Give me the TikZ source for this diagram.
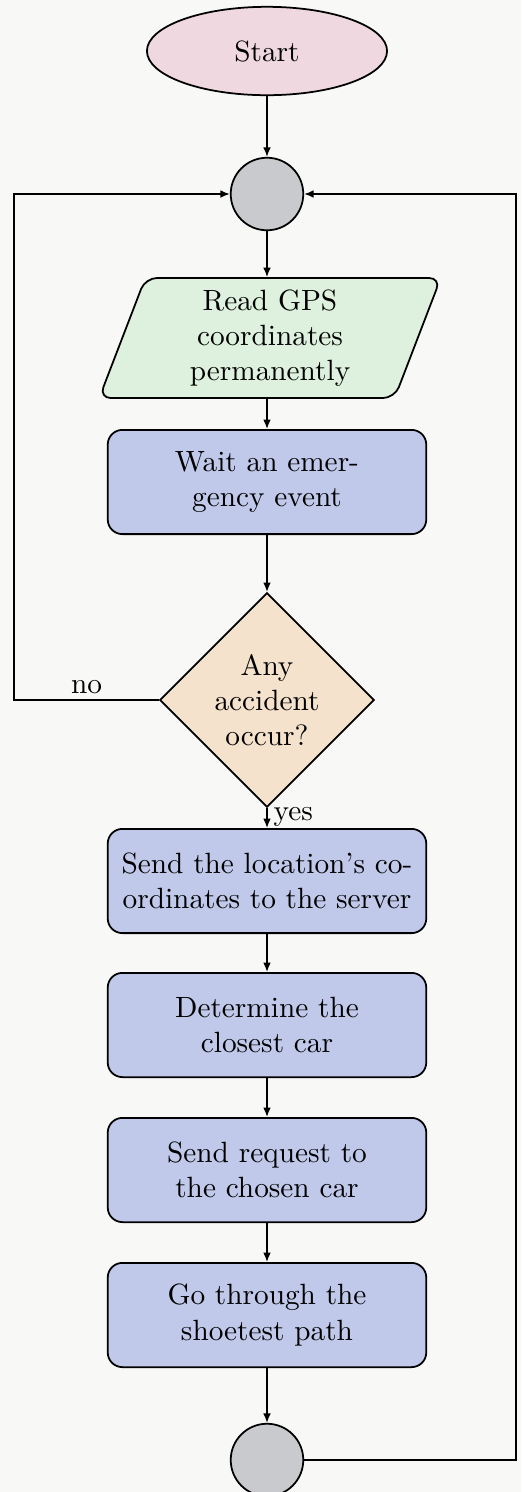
\documentclass[tikz,border=0pt]{standalone}
\usetikzlibrary{shapes.geometric,arrows.meta}

\definecolor{startfill}{RGB}{240,216,224}
\definecolor{iofill}{RGB}{222,240,222}
\definecolor{procfill}{RGB}{192,201,234}
\definecolor{decfill}{RGB}{245,226,204}
\definecolor{junctionfill}{RGB}{200,202,205}
\definecolor{paper}{RGB}{248,248,247}

\tikzset{
  base/.style={draw, line width=0.6pt, align=center},
  startstop/.style={base, ellipse, fill=startfill,
    minimum width=2.88cm, minimum height=1.06cm, inner sep=0pt},
  junction/.style={base, circle, fill=junctionfill, minimum size=0.87cm, inner sep=0pt},
  io/.style={base, trapezium, trapezium left angle=66, trapezium right angle=114,
    trapezium stretches=true, rounded corners=4pt, fill=iofill,
    minimum width=4.1cm, minimum height=1.44cm, inner sep=0pt, text width=2.8cm},
  proc/.style={base, rectangle, rounded corners=5pt, fill=procfill,
    minimum width=3.82cm, minimum height=1.25cm, text width=3.6cm, inner sep=0pt},
  decision/.style={base, diamond, fill=decfill, aspect=1,
    minimum width=2.57cm, minimum height=2.57cm, inner sep=0pt},
  arr/.style={line width=0.5pt, -{Latex[length=3.2pt,width=2.6pt]}},
  lbl/.style={inner sep=2pt}
}

\begin{document}
\begin{tikzpicture}[x=0.012cm, y=-0.012cm]
  % page area
  \fill[paper] (0,0) rectangle (521,1492);
  \useasboundingbox (0,0) rectangle (521,1492);

  % flow nodes
  \node[startstop] (start) at (267,51)   {Start};
  \node[junction]  (top)   at (267,194)  {};
  \node[io]        (read)  at (270,338)  {Read GPS\\coordinates\\permanently};
  \node[proc]      (wait)  at (267,482)  {Wait an emer-\\gency event};
  \node[decision]  (acc)   at (267,700)  {Any\\accident\\occur?};
  \node[proc]      (send)  at (267,881)  {Send the location's co-\\ordinates to the server};
  \node[proc]      (near)  at (267,1025) {Determine the\\closest car};
  \node[proc]      (req)   at (267,1170) {Send request to\\the chosen car};
  \node[proc]      (path)  at (267,1315) {Go through the\\shoetest path};
  \node[junction]  (bot)   at (267,1460) {};

  % turning points of the two loops
  \coordinate (lx) at (14,0);
  \coordinate (rx) at (516,0);

  % main sequence
  \draw[arr] (start) -- (top);
  \draw[arr] (top) -- (top |- read.north);
  \draw[arr] (top |- read.south) -- (wait);
  \draw[arr] (wait) -- (acc);
  \draw[arr] (acc) -- node[lbl, anchor=west, pos=0.45] (yes) {yes} (send);
  \draw[arr] (send) -- (near);
  \draw[arr] (near) -- (req);
  \draw[arr] (req) -- (path);
  \draw[arr] (path) -- (bot);

  % "no" branch back to the top junction
  \draw[arr] (acc.west) -- node[lbl, above, pos=0.5] (no) {no} (acc.west -| lx) |- (top.west);

  % return from the bottom junction
  \draw[arr] (bot.east) -- (bot.east -| rx) |- (top.east);
\end{tikzpicture}
\end{document}
